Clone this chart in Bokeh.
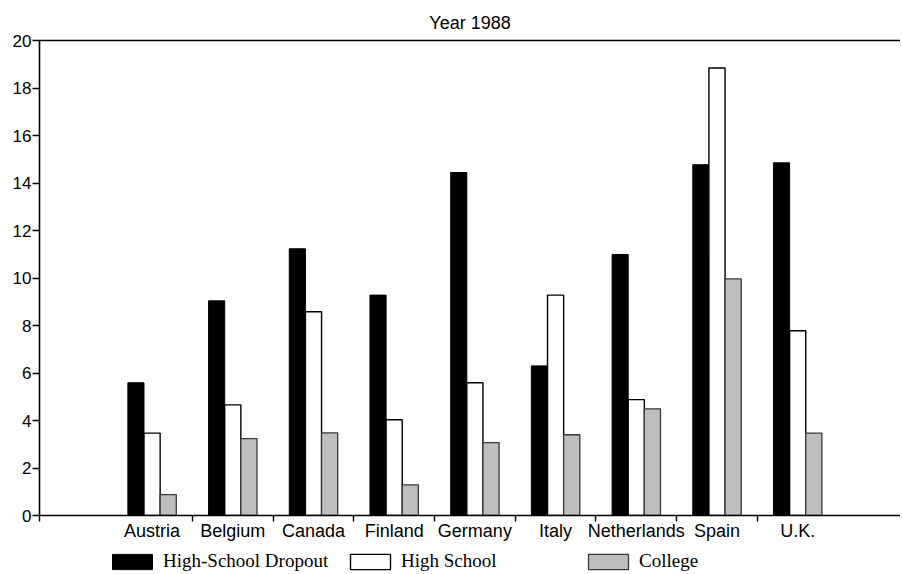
from bokeh.plotting import figure
from bokeh.layouts import column
from bokeh.models import (Range1d, FixedTicker, LinearAxis, Legend, LegendItem,
                          ColumnDataSource)
from bokeh.embed import file_html
from bokeh.resources import INLINE

countries = ["Austria", "Belgium", "Canada", "Finland", "Germany", "Italy",
             "Netherlands", "Spain", "U.K."]
dropout = [5.59, 9.04, 11.23, 9.28, 14.44, 6.30, 10.99, 14.77, 14.85]
high_school = [3.47, 4.66, 8.58, 4.03, 5.59, 9.28, 4.88, 18.84, 7.78]
college = [0.88, 3.24, 3.48, 1.29, 3.07, 3.40, 4.49, 9.96, 3.47]
series_labels = ["High-School Dropout", "High School", "College"]
y_ticks = [0, 2, 4, 6, 8, 10, 12, 14, 16, 18, 20]
title_text = "Year 1988"

fills = ["black", "white", "#bebebe"]
lines = ["black", "black", "#3a3a3a"]
lwidths = [1.0, 1.4, 1.3]

pos = [i + 1 for i in range(len(countries))]
seps = [-0.395] + [p_ + 0.5 for p_ in pos[:-1]]

p = figure(width=900, height=550, output_backend="svg", toolbar_location=None,
           x_range=Range1d(-0.395, 10.274), y_range=Range1d(0, 20),
           x_axis_type=None, y_axis_type=None,
           min_border_left=39, min_border_right=0, min_border_top=40,
           min_border_bottom=35)
p.title.text = title_text
p.title.align = "center"
p.title.text_font = "Liberation Sans"
p.title.text_font_style = "normal"
p.title.text_font_size = "18px"
p.title.text_color = "black"
p.title.offset = 0
p.title.standoff = 16
p.outline_line_color = None
p.xgrid.visible = False
p.ygrid.visible = False
p.background_fill_color = "white"
p.border_fill_color = "white"

src = ColumnDataSource(dict(
    x1=[v - 0.2 for v in pos], x2=pos, x3=[v + 0.2 for v in pos],
    d=dropout, h=high_school, c=college))
for xk, yk, i in (("x1", "d", 0), ("x2", "h", 1), ("x3", "c", 2)):
    p.vbar(x=xk, top=yk, width=0.2, bottom=0, source=src,
           fill_color=fills[i], line_color=lines[i], line_width=lwidths[i])

# y axis
yax = LinearAxis(ticker=FixedTicker(ticks=y_ticks))
yax.axis_line_width = 1.6
yax.major_tick_line_width = 1.4
yax.major_tick_out = 7
yax.major_tick_in = 0
yax.minor_tick_out = 0
yax.minor_tick_in = 0
yax.major_label_standoff = 1
yax.major_label_text_font = "Liberation Sans"
yax.major_label_text_font_size = "17px"
yax.major_label_text_color = "black"
p.add_layout(yax, "left")

# x axis
xax = LinearAxis(ticker=FixedTicker(ticks=pos, minor_ticks=seps))
xax.major_label_overrides = {p_: c for p_, c in zip(pos, countries)}
xax.axis_line_width = 1.6
xax.major_tick_out = 0
xax.major_tick_in = 0
xax.minor_tick_out = 6
xax.minor_tick_in = 0
xax.minor_tick_line_width = 1.4
xax.major_label_standoff = -1
xax.major_label_text_font = "Liberation Sans"
xax.major_label_text_font_size = "18px"
xax.major_label_text_color = "black"
p.add_layout(xax, "below")

# top border line
tax = LinearAxis(ticker=FixedTicker(ticks=[]))
tax.axis_line_width = 1.6
tax.major_tick_out = 0
tax.major_tick_in = 0
tax.minor_tick_out = 0
tax.minor_tick_in = 0
tax.major_label_text_font_size = "0px"
p.add_layout(tax, "above")

# legend strip
p2 = figure(width=900, height=22, output_backend="svg", toolbar_location=None,
            x_range=Range1d(0, 1), y_range=Range1d(0, 1),
            x_axis_type=None, y_axis_type=None,
            min_border_left=39, min_border_right=0, min_border_top=0,
            min_border_bottom=0)
p2.outline_line_color = None
p2.xgrid.visible = False
p2.ygrid.visible = False
p2.background_fill_color = "white"
p2.border_fill_color = "white"
items = []
for i, lab in enumerate(series_labels):
    # zero-size proxy glyph so the legend swatch carries the series style
    r = p2.vbar(x=[0.5], top=[0.5], bottom=[0.5], width=0, fill_color=fills[i],
                line_color=lines[i], line_width=lwidths[i])
    items.append(LegendItem(label=lab, renderers=[r]))

legend = Legend(items=items, orientation="horizontal", location=(68, 0))
legend.glyph_width = 50
legend.glyph_height = 19
legend.label_width = 177
legend.label_height = 15
legend.label_standoff = 6
legend.spacing = 5
legend.padding = 0
legend.margin = 0
legend.border_line_color = None
legend.background_fill_alpha = 0
legend.label_text_font = "Liberation Serif"
legend.label_text_font_size = "19px"
legend.label_text_color = "black"
legend.label_text_baseline = "middle"
p2.add_layout(legend, "center")

layout = column(p, p2, spacing=0)
open("out.html", "w").write(file_html(layout, INLINE))
